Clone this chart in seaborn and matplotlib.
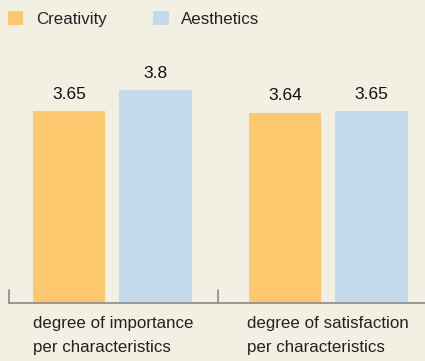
import matplotlib
matplotlib.use("Agg")
import matplotlib.pyplot as plt
import matplotlib.transforms as mtransforms
from matplotlib.patches import Patch
import seaborn as sns
import pandas as pd

categories = ["degree of importance\nper characteristics",
              "degree of satisfaction\nper characteristics"]
series = ["Creativity", "Aesthetics"]
creativity = [3.65, 3.64]
aesthetics = [3.8, 3.65]
colors = ["#FDC86D", "#C3DAEC"]
bg = "#F2EFE3"

df = pd.DataFrame({
    "category": categories * 2,
    "series": [series[0]] * 2 + [series[1]] * 2,
    "value": creativity + aesthetics,
})

sns.set_theme(style="white")
plt.rcParams["font.family"] = ["Liberation Sans", "DejaVu Sans"]

fig = plt.figure(figsize=(4.25, 3.61), dpi=100, facecolor=bg)
ax = fig.add_axes([9 / 425, 1 - 303 / 361, 1 - 9 / 425, 243 / 361])
ax.set_facecolor(bg)

sns.barplot(data=df, x="category", y="value", hue="series",
            palette=colors, width=0.80, gap=0.16, dodge=True,
            ax=ax, legend=False, saturation=1, linewidth=0)

ax.set_ylim(2.28, 4.016)
ax.set_xlim(-0.477, 1.449)

for container in ax.containers:
    ax.bar_label(container, labels=[f"{v:g}" for v in container.datavalues],
                 padding=7, fontsize=12.5, color="#111111", fontweight="medium")

for s in ["top", "right", "left"]:
    ax.spines[s].set_visible(False)
ax.spines["bottom"].set_color("#8a8a8a")
ax.spines["bottom"].set_linewidth(1.2)

ax.set_yticks([])
ax.set_xticks([])
ax.set_xlabel("")
ax.set_ylabel("")

# group separator ticks rising from the baseline
trans = mtransforms.blended_transform_factory(ax.transData, ax.transAxes)
for xb in [-0.477, 0.49]:
    ax.plot([xb, xb], [0, 13 / 243], transform=trans, color="#8a8a8a",
            lw=1.2, clip_on=False)

# category captions below the axis, left-aligned with each bar group
for i, cat in enumerate(categories):
    ax.text(i - 0.365 if i == 0 else i - 0.375, -13 / 243, cat,
            transform=trans, ha="left", va="top", fontsize=12.2,
            color="#222222", linespacing=1.75)

handles = [Patch(facecolor=c, edgecolor="none") for c in colors]
fig.legend(handles, series, loc="upper left", bbox_to_anchor=(-0.017, 1.012),
           ncol=2, frameon=False, fontsize=12.2, handlelength=0.9,
           handleheight=0.9, columnspacing=2.75, handletextpad=0.75,
           labelcolor="#222222")

fig.savefig("out.png", dpi=100, facecolor=bg)
